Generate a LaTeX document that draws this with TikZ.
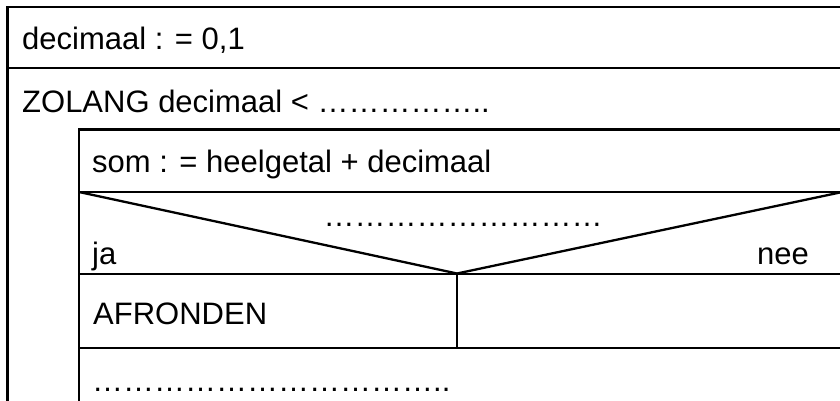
\documentclass[tikz,border=0pt]{standalone}
\usepackage{fontspec}
\setmainfont{Liberation Sans}
\begin{document}
\begin{tikzpicture}[x=1pt,y=-1pt,
  rule/.style={line width=2.3pt, line join=miter},
  txt/.style={anchor=base west, inner sep=0pt, font=\fontsize{31}{37}\selectfont}]
\useasboundingbox (0,0) rectangle (840,401);
% grid of the structogram
\coordinate (oTL) at (7.5,7);
\coordinate (oR1) at (860,7);
\coordinate (oB)  at (7.5,420);
\coordinate (sepL) at (7.5,68);
\coordinate (sepR) at (860,68);
\coordinate (iTL) at (79,129.5);
\coordinate (iR1) at (860,129.5);
\coordinate (iB)  at (79,420);
\coordinate (cTL) at (79,192);
\coordinate (cTR) at (860,192);
\coordinate (apex) at (457,273.5);
\coordinate (cRt) at (840,192.5);
\coordinate (bTL) at (79,274);
\coordinate (bTR) at (860,274);
\coordinate (divB) at (457,348);
\coordinate (eL) at (79,348);
\coordinate (eR) at (860,348);
\begin{scope}
\clip (0,0) rectangle (840,401);
% outer block: assignment + loop
\draw[rule] (oR1) -- (oTL) -- (oB);
\draw[rule] (sepL) -- (sepR);
% loop body
\draw[rule] (iR1) -- (iTL) -- (iB);
\draw[rule] (cTL) -- (cTR);
% condition triangle
\draw[rule] (cTL) -- (apex) -- (cRt);
\draw[rule] (bTL) -- (bTR);
\draw[rule] (apex) -- (divB);
\draw[rule] (eL) -- (eR);
\end{scope}
% texts
\node[txt] (init) at (22,50) {decimaal : = 0,1};
\node[txt] (loop) at (22,113) {ZOLANG decimaal < ……………..};
\node[txt] (som) at (92,172) {som : = heelgetal + decimaal};
\node[txt, anchor=base] (cond) at (463,226) {………………………};
\node[txt] (ja) at (92,264) {ja};
\node[txt, anchor=base east] (nee) at (809,264) {nee};
\node[txt] (afr) at (93,324) {AFRONDEN};
\node[txt] (last) at (92,391) {……………………………..};
\end{tikzpicture}
\end{document}
